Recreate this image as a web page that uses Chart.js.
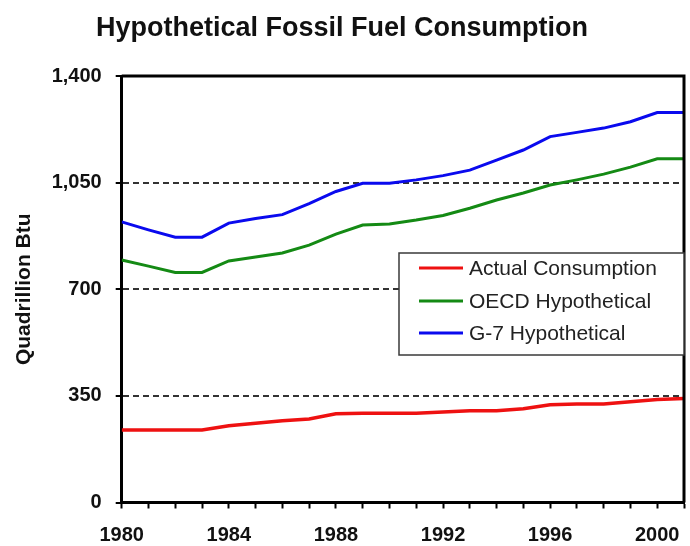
<!DOCTYPE html>
<html>
<head>
<meta charset="utf-8">
<script src="https://cdn.jsdelivr.net/npm/chart.js@4/dist/chart.umd.min.js"></script>
<style>
  html, body { margin: 0; padding: 0; background: #ffffff; }
  #wrap { width: 690px; height: 546px; }
</style>
</head>
<body>
<div id="wrap"><canvas id="c" width="690" height="546"></canvas></div>
<script>
const years = [1980,1981,1982,1983,1984,1985,1986,1987,1988,1989,1990,1991,1992,1993,1994,1995,1996,1997,1998,1999,2000,2001];
const actualConsumption = [238,238,238,238,252,260,268,274,291,293,293,293,297,301,301,308,321,323,323,331,338,341];
const oecdHypothetical = [796,776,755,755,793,806,819,845,881,911,914,927,942,966,993,1016,1042,1059,1078,1101,1128,1128];
const g7Hypothetical = [921,895,871,871,917,932,945,981,1021,1048,1048,1059,1073,1091,1124,1157,1201,1215,1229,1250,1280,1280];
const yTicks = [0, 350, 700, 1050, 1400];
const xLabelEvery = 4;

const FONT = '"Liberation Sans", Arial, sans-serif';

function toPoints(vals) { return years.map((y, i) => ({ x: y, y: vals[i] })); }

const frameAndLegend = {
  id: 'frameAndLegend',
  afterDatasetsDraw(chart) {
    const { ctx, chartArea: a } = chart;
    ctx.save();
    ctx.strokeStyle = '#000';
    ctx.lineWidth = 3;
    ctx.beginPath();
    ctx.moveTo(a.left, a.top);
    ctx.lineTo(a.right, a.top);
    ctx.lineTo(a.right, a.bottom);
    ctx.stroke();
    const bw = 285, bh = 102;
    const bx = a.right - bw, by = a.top + 177;
    ctx.fillStyle = '#fff';
    ctx.fillRect(bx, by, bw, bh);
    ctx.strokeStyle = '#3a3a3a';
    ctx.lineWidth = 1.5;
    ctx.strokeRect(bx, by, bw, bh);
    ctx.font = '21px ' + FONT;
    ctx.textBaseline = 'middle';
    ctx.textAlign = 'left';
    const rowY = [15, 48, 80];
    chart.data.datasets.forEach((ds, i) => {
      const y = by + rowY[i];
      ctx.strokeStyle = ds.borderColor;
      ctx.lineWidth = 3;
      ctx.beginPath();
      ctx.moveTo(bx + 20, y);
      ctx.lineTo(bx + 64, y);
      ctx.stroke();
      ctx.fillStyle = '#222';
      ctx.fillText(ds.label, bx + 70, y + 1);
    });
    ctx.restore();
  }
};

new Chart(document.getElementById('c'), {
  type: 'line',
  data: {
    datasets: [
      { label: 'Actual Consumption', data: toPoints(actualConsumption), borderColor: '#ee1111', borderWidth: 3.5, pointRadius: 0, tension: 0 },
      { label: 'OECD Hypothetical', data: toPoints(oecdHypothetical), borderColor: '#148a14', borderWidth: 3, pointRadius: 0, tension: 0 },
      { label: 'G-7 Hypothetical', data: toPoints(g7Hypothetical), borderColor: '#0a0aee', borderWidth: 3, pointRadius: 0, tension: 0 }
    ]
  },
  options: {
    responsive: false,
    animation: false,
    devicePixelRatio: 1,
    layout: { padding: { left: 0, right: 6, top: 0, bottom: 0 } },
    plugins: {
      legend: { display: false },
      tooltip: { enabled: false },
      title: {
        display: true,
        text: 'Hypothetical Fossil Fuel Consumption',
        color: '#111',
        font: { family: FONT, size: 27, weight: 'bold', lineHeight: 1.2 },
        padding: { top: 12, bottom: 31.6 }
      }
    },
    scales: {
      x: {
        type: 'linear',
        min: years[0],
        max: years[years.length - 1],
        afterFit(scale) { scale.height = 43.5; scale.paddingLeft = 0; scale.paddingRight = 0; },
        ticks: {
          stepSize: 1,
          autoSkip: false,
          maxRotation: 0,
          padding: 15,
          color: '#111',
          font: { family: FONT, size: 20, weight: 'bold' },
          callback: (v) => (v % xLabelEvery === 0 ? String(v) : '')
        },
        grid: { drawOnChartArea: false, drawTicks: true, tickLength: 6, tickWidth: 2, tickColor: '#000' },
        border: { display: true, color: '#000', width: 3 }
      },
      y: {
        min: 0,
        max: 1400,
        afterFit(scale) { scale.width = 121.7; },
        afterBuildTicks(scale) { scale.ticks = yTicks.map(v => ({ value: v })); },
        ticks: {
          padding: 14,
          color: '#111',
          font: { family: FONT, size: 20, weight: 'bold' },
          callback: (v) => v.toLocaleString('en-US')
        },
        grid: {
          color: (c) => (c.tick && (c.tick.value === 0 || c.tick.value === 1400) ? 'rgba(0,0,0,0)' : '#333'),
          lineWidth: 2,
          drawTicks: true,
          tickLength: 6,
          tickWidth: 2,
          tickColor: '#000',
          tickBorderDash: []
        },
        border: { display: true, color: '#000', width: 3, dash: [6, 4] },
        title: {
          display: true,
          text: 'Quadrillion Btu',
          color: '#111',
          font: { family: FONT, size: 21, weight: 'bold', lineHeight: 1.2 },
          padding: { top: 12, bottom: 0 }
        }
      }
    }
  },
  plugins: [frameAndLegend]
});
</script>
</body>
</html>
